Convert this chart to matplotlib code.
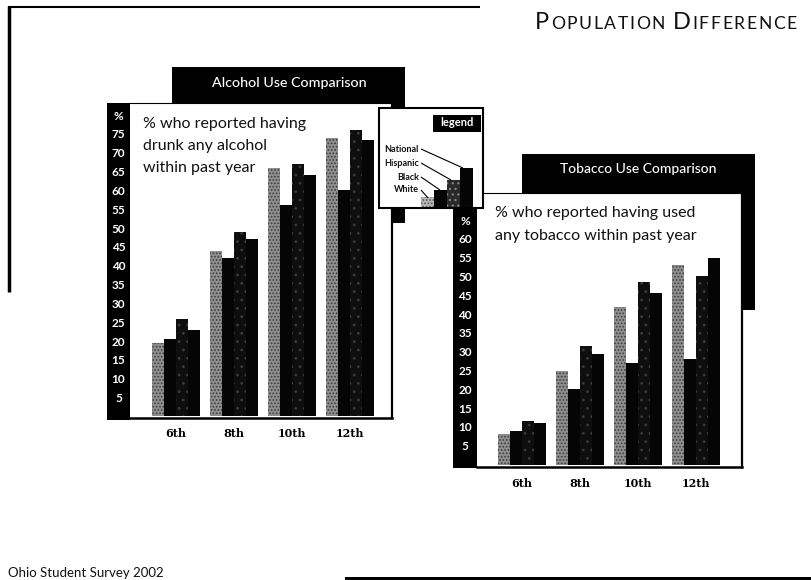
import matplotlib
matplotlib.use("Agg")
import matplotlib.pyplot as plt
from matplotlib.patches import Rectangle
from matplotlib.lines import Line2D

plt.rcParams['font.family'] = ['Lato', 'DejaVu Sans']
plt.rcParams['hatch.linewidth'] = 0.8

# ---- data ----
grades = ['6th', '8th', '10th', '12th']
groups = ['National', 'Hispanic', 'Black', 'White']

alcohol_national = [19.5, 44, 66, 74]
alcohol_hispanic = [20.5, 42, 56, 60]
alcohol_black = [26, 49, 67, 76]
alcohol_white = [23, 47, 64, 73.5]

tobacco_national = [8, 25, 42, 53]
tobacco_hispanic = [9, 20, 27, 28]
tobacco_black = [11.5, 31.5, 48.5, 50]
tobacco_white = [11, 29.5, 45.5, 55]

alcohol_ticks = [5, 10, 15, 20, 25, 30, 35, 40, 45, 50, 55, 60, 65, 70, 75, 80]
alcohol_tick_labels = [str(v) for v in alcohol_ticks[:-1]] + ['%']
tobacco_ticks = [5, 10, 15, 20, 25, 30, 35, 40, 45, 50, 55, 60, 65]
tobacco_tick_labels = [str(v) for v in tobacco_ticks[:-1]] + ['%']

legend_steps = [1.0, 1.7, 2.7, 3.9]

# ---- figure helpers (pixel layout, origin top-left) ----
W, H = 812, 580
fig = plt.figure(figsize=(W / 100, H / 100), dpi=100)
fig.patch.set_facecolor('white')


def box(x0, y0, x1, y1):
    return [x0 / W, 1 - y1 / H, (x1 - x0) / W, (y1 - y0) / H]


def rect(x0, y0, x1, y1, z, face='black', edge='none', lw=0):
    fig.add_artist(Rectangle((x0 / W, 1 - y1 / H), (x1 - x0) / W, (y1 - y0) / H,
                             transform=fig.transFigure, facecolor=face,
                             edgecolor=edge, linewidth=lw, zorder=z))


def line(xs, ys, z, lw=1.0, color='black', ls='-'):
    fig.add_artist(Line2D([x / W for x in xs], [1 - y / H for y in ys],
                          transform=fig.transFigure, color=color, lw=lw,
                          ls=ls, zorder=z, solid_capstyle='butt'))


def text(x, y, s, z=10, **kw):
    return fig.text(x / W, 1 - y / H, s, zorder=z, **kw)


# bar looks: speckled grey, solid black, speckled black, solid black
bar_styles = [
    dict(color='#8f8f8f', hatch='.....', edgecolor='#3c3c3c'),
    dict(color='#050505', hatch=None, edgecolor='#050505'),
    dict(color='#0e0e0e', hatch='..', edgecolor='#3a3a3a'),
    dict(color='#050505', hatch=None, edgecolor='#050505'),
]
bar_w = 0.207


def grouped_bars(ax, series):
    for k, vals in enumerate(series):
        st = bar_styles[k]
        xs = [i + (k - 1.5) * bar_w for i in range(len(grades))]
        ax.bar(xs, vals, width=bar_w, color=st['color'], hatch=st['hatch'],
               edgecolor=st['edgecolor'], linewidth=0, label=groups[k])


def style_axes(ax, ticks, labels, ypad, xpad):
    ax.spines['left'].set_visible(False)
    ax.spines['top'].set_linewidth(0.8)
    ax.spines['right'].set_linewidth(1.6)
    ax.spines['bottom'].set_linewidth(1.8)
    ax.set_yticks(ticks, labels)
    ax.tick_params(axis='y', length=0, pad=ypad, labelcolor='white',
                   labelsize=8.5)
    for lab in ax.get_yticklabels():
        lab.set_ha('center')
        lab.set_fontweight('bold')
    ax.set_xticks(range(len(grades)), grades)
    ax.tick_params(axis='x', length=0, pad=xpad, labelsize=8)
    for lab in ax.get_xticklabels():
        lab.set_fontweight('bold')
        lab.set_family(['DejaVu Serif'])


# ---- page frame and headings ----
line([8, 480], [7, 7], z=1, lw=1.5)
line([9.5, 9.5], [6, 292], z=1, lw=2.5)


def small_caps(x, y_base, parts, tracking=1.6):
    renderer = fig.canvas.get_renderer()
    for s, size in parts:
        for ch in s:
            if ch == ' ':
                x += 6
                continue
            t = text(x, y_base, ch, fontsize=size, va='baseline', ha='left',
                     color='#111111')
            bb = t.get_window_extent(renderer)
            x = bb.x1 + tracking


small_caps(535, 29, [('P', 17), ('OPULATION', 12.6), (' ', 12.6), ('D', 17),
                     ('IFFERENCE', 12.6)])

text(8, 579, 'Ohio Student Survey 2002', fontsize=9.5, va='bottom', ha='left',
     color='#111111')
rect(345, 577, 812, 581, z=1)

# ---- alcohol panel ----
rect(172, 67, 405, 103, z=1)          # title block
rect(392, 103, 405, 223, z=1)         # drop shadow
rect(107, 103, 130, 420, z=1)         # value strip
text(289, 83, 'Alcohol Use Comparison', z=2, color='white', fontsize=10.3,
     ha='center', va='center', fontweight='medium')

ax1 = fig.add_axes(box(130, 103, 392, 418))
ax1.set_zorder(2)
ax1.set_facecolor('white')
grouped_bars(ax1, [alcohol_national, alcohol_hispanic, alcohol_black,
                   alcohol_white])
ax1.set_xlim(-0.793, 3.724)
ax1.set_ylim(-0.4, 83.2)
style_axes(ax1, alcohol_ticks, alcohol_tick_labels, ypad=8.3, xpad=7)

for i, s in enumerate(['% who reported having', 'drunk any alcohol',
                       'within past year']):
    text(143, 128 + 22 * i, s, z=3, fontsize=11.5, ha='left', va='baseline',
         color='#111111')

# ---- tobacco panel ----
rect(522, 154, 755, 193, z=3)
rect(742, 193, 755, 310, z=3)
rect(453, 193, 477, 468, z=3)
text(638, 169, 'Tobacco Use Comparison', z=4, color='white', fontsize=10,
     ha='center', va='center', fontweight='medium')

ax2 = fig.add_axes(box(477, 193, 742, 467))
ax2.set_zorder(4)
ax2.set_facecolor('white')
grouped_bars(ax2, [tobacco_national, tobacco_hispanic, tobacco_black,
                   tobacco_white])
ax2.set_xlim(-0.776, 3.793)
ax2.set_ylim(-0.66, 72.2)
style_axes(ax2, tobacco_ticks, tobacco_tick_labels, ypad=8.6, xpad=8)

for i, s in enumerate(['% who reported having used',
                       'any tobacco within past year']):
    text(495, 217 + 23 * i, s, z=5, fontsize=11.5, ha='left', va='baseline',
         color='#111111')

# ---- legend card ----
rect(379, 108, 483, 208, z=6, face='white', edge='black', lw=1.5)
rect(433, 115, 481, 132, z=7)
text(457, 123, 'legend', z=8, color='white', fontsize=8, ha='center',
     va='center', fontweight='bold')

axl = fig.add_axes(box(421, 166, 473, 207))
axl.set_zorder(8)
axl.patch.set_alpha(0)
legend_styles = [
    dict(color='#b5b5b5', hatch='.....', edgecolor='#555555'),
    dict(color='#050505', hatch=None, edgecolor='#050505'),
    dict(color='#2a2a2a', hatch='...', edgecolor='#8a8a8a'),
    dict(color='#050505', hatch=None, edgecolor='#050505'),
]
for k, h in enumerate(legend_steps):
    st = legend_styles[k]
    axl.bar(k, h, width=1.0, color=st['color'], hatch=st['hatch'],
            edgecolor=st['edgecolor'], linewidth=0)
axl.set_xlim(-0.5, 3.5)
axl.set_ylim(0, max(legend_steps) * 1.05)
axl.axis('off')

legend_rows = [('National', 149, (463, 168)),
               ('Hispanic', 163, (451, 180)),
               ('Black', 177, (440, 190)),
               ('White', 190, (428, 198))]
for name, y, (tx, ty) in legend_rows:
    text(419, y, name, z=9, fontsize=6.5, ha='right', va='center',
         fontweight='bold', color='#111111')
    line([421, tx], [y, ty], z=9, lw=0.8)

fig.savefig('out.png', dpi=100, facecolor='white')
